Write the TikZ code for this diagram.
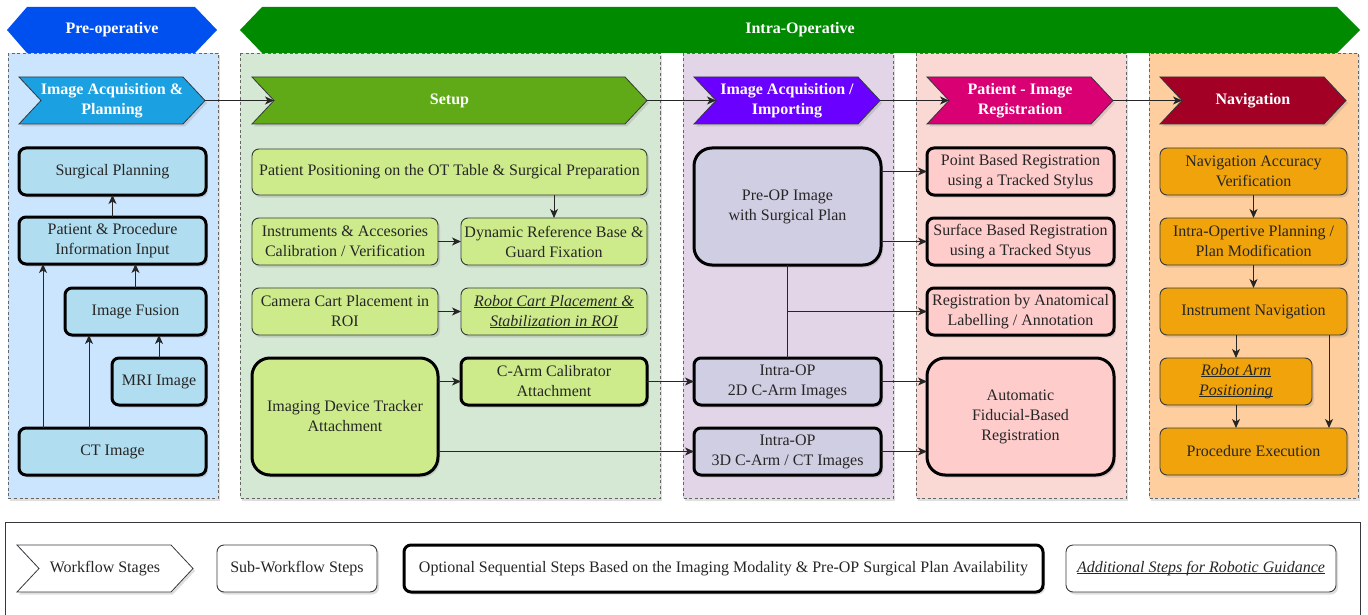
\documentclass[tikz,border=0pt]{standalone}
\usepackage{fontspec}
\setmainfont{Liberation Serif}
\usetikzlibrary{arrows.meta,shadows,calc}
\newcommand\myul[1]{\setbox0\hbox{#1}\rlap{\rule[-1.6pt]{\wd0}{0.7pt}}\box0}
\definecolor{bannerblue}{HTML}{0050EF}
\definecolor{bannergreen}{HTML}{008A00}
\definecolor{panA}{HTML}{CCE5FF}
\definecolor{panB}{HTML}{D5E8D4}
\definecolor{panC}{HTML}{E1D5E7}
\definecolor{panD}{HTML}{FAD9D5}
\definecolor{panE}{HTML}{FFCE9F}
\definecolor{stA}{HTML}{1BA1E2}
\definecolor{stB}{HTML}{60A917}
\definecolor{stC}{HTML}{6A00FF}
\definecolor{stD}{HTML}{D80073}
\definecolor{stE}{HTML}{A20025}
\definecolor{bxA}{HTML}{B1DDF0}
\definecolor{bxB}{HTML}{CDEB8B}
\definecolor{bxC}{HTML}{D0CEE2}
\definecolor{bxD}{HTML}{FFCCCC}
\definecolor{bxE}{HTML}{F0A30A}
\definecolor{edge}{HTML}{36393D}
\definecolor{txt}{HTML}{262626}
\definecolor{dashgray}{HTML}{666666}
\newcommand\chevron[8]{% style, name, x1, x2, ytop, ybot, fill, text
  \filldraw[stagepath, fill=#7] (#3,#5) -- ({#4-22},#5) -- (#4,{(#5+#6)/2}) -- ({#4-22},#6) -- (#3,#6) -- ({#3+22},{(#5+#6)/2}) -- cycle;
  \node[#1, minimum width={#4-#3}, minimum height={#6-#5}] (#2) at ({(#3+#4)/2},{(#5+#6)/2}) {#8};
  \coordinate (#2-in) at ({#3+22},{(#5+#6)/2});
}
\begin{document}
\begin{tikzpicture}[x=1pt,y=-1pt,
  shadowed/.style={drop shadow={opacity=0.25, shadow xshift=2pt, shadow yshift=-2.5pt}},
  bannertext/.style={text=white, font=\fontsize{16}{19}\selectfont\bfseries, inner sep=0pt},
  panel/.style={draw=dashgray, line width=0.9pt, dash pattern=on 3pt off 2.5pt, shadowed},
  stagepath/.style={draw=edge, line width=0.8pt, shadowed},
  stagetext/.style={draw=none, inner sep=0pt, outer sep=0pt, text=white, align=center, font=\fontsize{16}{20}\selectfont\bfseries},
  legstagetext/.style={draw=none, inner sep=0pt, outer sep=0pt, text=txt, align=center, font=\fontsize{16}{20}\selectfont},
  box/.style={draw=edge, line width=0.9pt, rounded corners=7pt, align=center, text=txt, inner sep=1pt, outer sep=0pt, shadowed, font=\fontsize{16}{20}\selectfont, minimum height=47pt, minimum width=187pt},
  opt/.style={box, draw=black, line width=3pt},
  big/.style={minimum height=117pt, rounded corners=18pt},
  arr/.style={draw=txt, line width=0.9pt, -{Stealth[length=9pt,width=8pt,inset=2.5pt]}},
  link/.style={draw=txt, line width=0.9pt}
]
\useasboundingbox (0,0) rectangle (1368,615);

% banners
\fill[bannerblue] (7,30) -- (27,7) -- (195,7) -- (217,30) -- (195,53) -- (27,53) -- cycle;
\node[bannertext] (preop) at (112,30) {Pre-operative};
\fill[bannergreen] (240,30) -- (262,7) -- (1337,7) -- (1360,30) -- (1337,53) -- (262,53) -- cycle;
\node[bannertext] (intraop) at (800,30) {Intra-Operative};

% panels
\filldraw[panel, fill=panA] (8,53) rectangle (218,498);
\filldraw[panel, fill=panB] (240,53) rectangle (660,498);
\filldraw[panel, fill=panC] (683,53) rectangle (893,498);
\filldraw[panel, fill=panD] (916,53) rectangle (1126,498);
\filldraw[panel, fill=panE] (1149,53) rectangle (1358,498);

% stages
\chevron{stagetext}{s1}{19}{205}{77}{124}{stA}{Image Acquisition \&\\Planning}
\chevron{stagetext}{s2}{252}{647}{77}{124}{stB}{Setup}
\chevron{stagetext}{s3}{694}{880}{77}{124}{stC}{Image Acquisition /\\Importing}
\chevron{stagetext}{s4}{927}{1113}{77}{124}{stD}{Patient - Image\\Registration}
\chevron{stagetext}{s5}{1160}{1346}{77}{124}{stE}{Navigation}
\draw[arr] (s1.east) -- (s2-in);
\draw[arr] (s2.east) -- (s3-in);
\draw[arr] (s3.east) -- (s4-in);
\draw[arr] (s4.east) -- (s5-in);

% pre-operative
\node[opt, fill=bxA] (sp) at (112.5,171.5) {Surgical Planning};
\node[opt, fill=bxA] (pp) at (112.5,240.5) {Patient \& Procedure\\Information Input};
\node[opt, fill=bxA, minimum width=141pt] (fus) at (135.5,311.5) {Image Fusion};
\node[opt, fill=bxA, minimum width=94pt] (mri) at (159,381.5) {MRI Image};
\node[opt, fill=bxA] (ct) at (112.5,451.5) {CT Image};
\draw[arr] (pp.north) -- (sp.south);
\draw[arr] ([xshift=24pt]ct.north west) -- ([xshift=24pt]pp.south west);
\draw[arr] ([xshift=70pt]ct.north west) -- ([xshift=24pt]fus.south west);
\draw[arr] (mri.north) -- (mri.north |- fus.south);
\draw[arr] (fus.north) -- (fus.north |- pp.south);

% setup
\node[box, fill=bxB, minimum width=395pt, minimum height=46pt] (pos) at (449.5,172) {Patient Positioning on the OT Table \& Surgical Preparation};
\node[box, fill=bxB, minimum width=186pt] (ins) at (345,241.5) {Instruments \& Accesories\\Calibration / Verification};
\node[box, fill=bxB, minimum width=186pt] (drb) at (554,241.5) {Dynamic Reference Base \&\\Guard Fixation};
\node[box, fill=bxB, minimum width=186pt] (cam) at (345,311.5) {Camera Cart Placement in\\ROI};
\node[box, fill=bxB, minimum width=186pt, font=\fontsize{16}{20}\selectfont\itshape] (rob) at (554,311.5) {\myul{Robot Cart Placement \&}\\\myul{Stabilization in ROI}};
\node[opt, big, fill=bxB, minimum width=186pt] (imd) at (345,416.5) {Imaging Device Tracker\\Attachment};
\node[opt, fill=bxB, minimum width=186pt] (cal) at (554,381.5) {C-Arm Calibrator\\Attachment};
\draw[arr] (drb.north |- pos.south) -- (drb.north);
\draw[arr] (ins.east) -- (drb.west);
\draw[arr] (cam.east) -- (rob.west);
\draw[arr] (imd.east |- cal.west) -- (cal.west);

% image acquisition
\node[opt, big, fill=bxC] (pre) at (787.5,206.5) {Pre-OP Image\\with Surgical Plan};
\node[opt, fill=bxC] (c2d) at (787.5,381.5) {Intra-OP\\2D C-Arm Images};
\node[opt, fill=bxC] (c3d) at (787.5,451.5) {Intra-OP\\3D C-Arm / CT Images};
\draw[arr] (cal.east) -- (c2d.west);
\draw[arr] (imd.east |- c3d.west) -- (c3d.west);

% registration
\node[opt, fill=bxD] (pt) at (1020.5,171.5) {Point Based Registration\\using a Tracked Stylus};
\node[opt, fill=bxD] (sf) at (1020.5,241.5) {Surface Based Registration\\using a Tracked Styus};
\node[opt, fill=bxD] (an) at (1020.5,311.5) {Registration by Anatomical\\Labelling / Annotation};
\node[opt, big, fill=bxD] (au) at (1020.5,416.5) {Automatic\\Fiducial-Based\\Registration};
\draw[link] (pre.south) -- (c2d.north);
\coordinate (jn) at (pre.south |- an.west);
\draw[arr] (jn) -- (an.west);
\draw[arr] (pre.east |- pt.west) -- (pt.west);
\draw[arr] (pre.east |- sf.west) -- (sf.west);
\draw[arr] (c2d.east) -- (au.west |- c2d.east);
\draw[arr] (c3d.east) -- (au.west |- c3d.east);

% navigation
\node[box, fill=bxE] (acc) at (1253.5,171.5) {Navigation Accuracy\\Verification};
\node[box, fill=bxE] (ipl) at (1253.5,241.5) {Intra-Opertive Planning /\\Plan Modification};
\node[box, fill=bxE] (inn) at (1253.5,311.5) {Instrument Navigation};
\node[box, fill=bxE, minimum width=152pt, font=\fontsize{16}{20}\selectfont\itshape] (rarm) at (1236,381.5) {\myul{Robot Arm}\\\myul{Positioning}};
\node[box, fill=bxE] (proc) at (1253.5,451.5) {Procedure Execution};
\draw[arr] (acc.south) -- (ipl.north);
\draw[arr] (ipl.south) -- (inn.north);
\draw[arr] (rarm.north |- inn.south) -- (rarm.north);
\draw[arr] (rarm.south) -- (rarm.south |- proc.north);
\draw[arr] ([xshift=-18pt]inn.south east) -- ([xshift=-18pt]proc.north east);

% legend
\draw[draw=edge, line width=0.9pt] (5,640) -- (5,522) -- (1360,522) -- (1360,640);
\chevron{legstagetext}{lg1}{17}{193}{545}{592}{white}{Workflow Stages}
\node[box, fill=white, minimum width=160pt] (lg2) at (297,568.5) {Sub-Workflow Steps};
\node[opt, fill=white, minimum width=639pt] (lg3) at (723.5,568.5) {Optional Sequential Steps Based on the Imaging Modality \& Pre-OP Surgical Plan Availability};
\node[box, fill=white, minimum width=270pt, font=\fontsize{16}{20}\selectfont\itshape] (lg4) at (1201,568.5) {\myul{Additional Steps for Robotic Guidance}};
\end{tikzpicture}
\end{document}
